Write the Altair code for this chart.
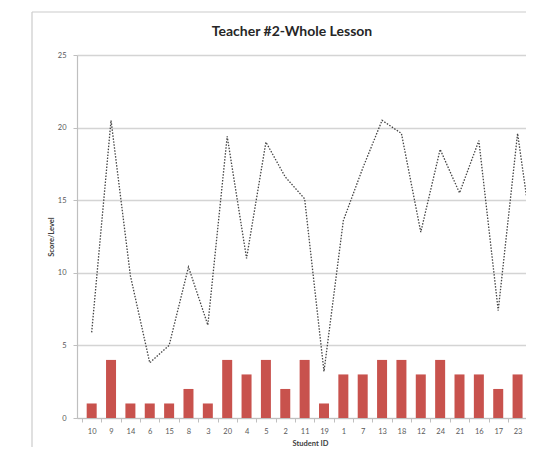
import altair as alt
import pandas as pd

student_ids = ['10', '9', '14', '6', '15', '8', '3', '20', '4', '5', '2', '11',
               '19', '1', '7', '13', '18', '12', '24', '21', '16', '17', '23', '22']
scores = [5.9, 20.5, 9.8, 3.8, 5.0, 10.4, 6.4, 19.4, 11.0, 19.0, 16.6, 15.1,
          3.2, 13.6, 17.2, 20.5, 19.6, 12.8, 18.5, 15.5, 19.1, 7.4, 19.6, 10.2]
levels = [1, 4, 1, 1, 1, 2, 1, 4, 3, 4, 2, 4,
          1, 3, 3, 4, 4, 3, 4, 3, 3, 2, 3, 3]
y_ticks = [0, 5, 10, 15, 20, 25]

df = pd.DataFrame({"idx": list(range(len(student_ids))), "sid": student_ids,
                   "score": scores, "level": levels})

W, H = 449, 363
BAND = 19.8
x_scale = alt.Scale(domain=[-0.5, -0.5 + W / BAND], nice=False, zero=False)
y_scale = alt.Scale(domain=[0, 25], nice=False)
label_expr = "[" + ",".join(f"'{s}'" for s in student_ids) + "][datum.value]"
GRAY = "#bfbfbf"

bars = alt.Chart(df).mark_bar(color="#c8524d", size=10, clip=True).encode(
    x=alt.X("idx:Q", scale=x_scale, axis=alt.Axis(
        values=list(range(23)), labelExpr=label_expr, ticks=False, tickSize=0,
        labelPadding=9, domainColor=GRAY, domainWidth=1.2, grid=False, orient="bottom",
        title="Student ID", titleX=233, titleY=25, titleBaseline="middle", titleAlign="center")),
    y=alt.Y("level:Q", scale=y_scale, axis=alt.Axis(
        values=y_ticks, grid=True, gridColor="#d4d4d4", gridWidth=1.3,
        tickSize=4, tickColor=GRAY, labelPadding=7, domainColor=GRAY, domainWidth=1.2,
        title="Score/Level", titleX=-26, titleY=H / 2, titleAngle=270,
        titleAlign="center", titleBaseline="middle")),
)

line = alt.Chart(df).mark_line(color="#444444", strokeWidth=1.3, strokeDash=[1.5, 1.5], clip=True).encode(
    x=alt.X("idx:Q", scale=x_scale, axis=alt.Axis(
        values=[i - 0.5 for i in range(23)], labels=False, domain=False, grid=False,
        ticks=True, tickSize=4, tickColor=GRAY, title=None, orient="bottom")),
    y=alt.Y("score:Q", scale=y_scale, axis=None),
)

one = pd.DataFrame({"k": [0]})
frame_v = alt.Chart(one).mark_rule(color="#cccccc", strokeWidth=1.2).encode(
    x=alt.value(-45), y=alt.value(-43), y2=alt.value(H + 29))
frame_h = alt.Chart(one).mark_rule(color="#cccccc", strokeWidth=1.2).encode(
    x=alt.value(-45), x2=alt.value(W), y=alt.value(-43))
title = alt.Chart(one).mark_text(font="Lato", fontSize=14, fontWeight="bold", color="#262626").encode(
    x=alt.value(215), y=alt.value(-23), text=alt.value("Teacher #2-Whole Lesson"))

chart = alt.layer(frame_v, frame_h, title, bars, line).resolve_axis(
    x="independent", y="independent"
).properties(
    width=W, height=H,
    autosize=alt.AutoSizeParams(type="none"),
    padding={"left": 69, "top": 47, "right": 0, "bottom": 29},
).configure_view(stroke=None).configure_axis(
    labelFont="Lato", labelFontSize=7.5, labelColor="#595959",
    titleFont="Lato", titleFontSize=7.5, titleFontWeight="bold", titleColor="#404040",
)

chart.save("out.html", embed_options={"renderer": "svg", "actions": False})
